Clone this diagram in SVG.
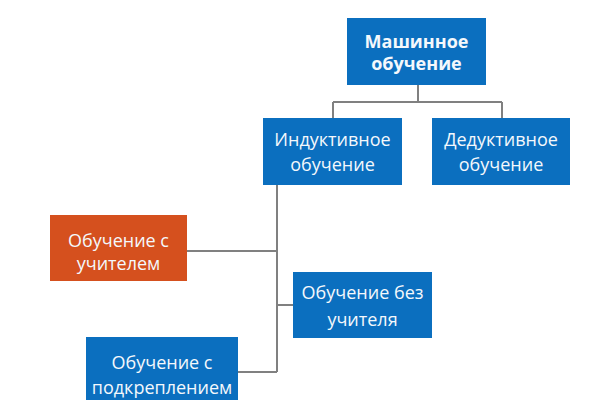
<svg xmlns="http://www.w3.org/2000/svg" width="600" height="400" viewBox="0 0 600 400">
<style>
.blue{fill:#0b6fbf}
.orange{fill:#d5501e}
text{font-family:"Open Sans","Noto Sans","Liberation Sans",sans-serif;font-size:18px;fill:#f4f8fc;text-anchor:middle}
.b{font-weight:bold}
.c{fill:none;stroke:#808080;stroke-width:2}
</style>
<rect width="600" height="400" fill="#ffffff"/>
<g id="connectors">
<path class="c" d="M418 85V102M333 102H502M333 102V118M502 102V118"/>
<path class="c" d="M277 185V372M187 251H277M277 305H293M238 372H277"/>
</g>
<g id="ml">
<rect class="blue" x="347" y="18" width="139" height="67"/>
<text class="b" x="416.5" y="48">Машинное</text>
<text class="b" x="416.5" y="70">обучение</text>
</g>
<g id="inductive">
<rect class="blue" x="263" y="118" width="139" height="67"/>
<text x="332.5" y="146">Индуктивное</text>
<text x="332.5" y="171">обучение</text>
</g>
<g id="deductive">
<rect class="blue" x="432" y="118" width="138" height="67"/>
<text x="501" y="146">Дедуктивное</text>
<text x="501" y="171">обучение</text>
</g>
<g id="supervised">
<rect class="orange" x="50" y="215" width="137" height="66"/>
<text x="118.5" y="247">Обучение с</text>
<text x="118.5" y="270">учителем</text>
</g>
<g id="unsupervised">
<rect class="blue" x="293" y="272" width="139" height="66"/>
<text x="362.5" y="299">Обучение без</text>
<text x="362.5" y="326">учителя</text>
</g>
<g id="reinforcement">
<rect class="blue" x="86" y="337" width="152" height="66"/>
<text x="162" y="369">Обучение с</text>
<text x="162" y="394">подкреплением</text>
</g>
</svg>
